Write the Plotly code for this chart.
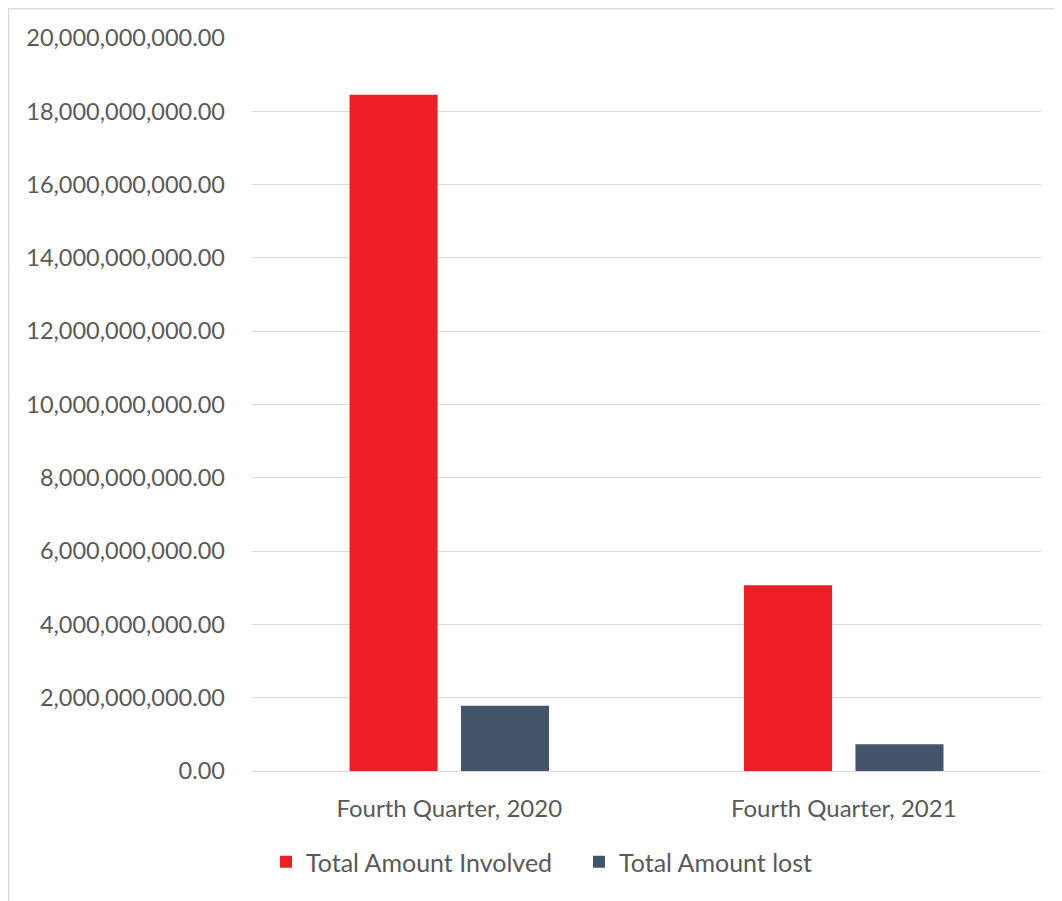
import plotly.graph_objects as go

categories = ["Fourth Quarter, 2020", "Fourth Quarter, 2021"]
total_involved = [18.45e9, 5.07e9]
total_lost = [1.78e9, 0.73e9]
tick_vals = [i * 2e9 for i in range(11)]
tick_text = [f"{v:,.2f}" for v in tick_vals]

RED = "#ED1F24"
NAVY = "#44546A"
GRID = "#D9D9D9"
FAM = "Lato"
COL = "#595959"

fig = go.Figure()
fig.add_trace(go.Bar(name="Total Amount Involved", x=categories, y=total_involved,
                     marker=dict(color=RED, line=dict(width=0))))
fig.add_trace(go.Bar(name="Total Amount lost", x=categories, y=total_lost,
                     marker=dict(color=NAVY, line=dict(width=0))))

OFF = 8  # page body margin
W, H = 1062 - OFF, 901 - OFF
L, T = 252 - OFF, 38 - OFF
R = W - (1041 - OFF)
B = H - (771 - OFF)
pw, ph = W - L - R, H - T - B

def px(x):
    return (x - OFF - L) / pw

def py(y):
    return (H - B - (y - OFF)) / ph

fig.update_layout(
    width=W, height=H,
    margin=dict(l=L, r=R, t=T, b=B, pad=0),
    paper_bgcolor="white", plot_bgcolor="white",
    barmode="group", bargap=0.435, bargroupgap=0.21,
    font=dict(family=FAM, size=23, color=COL),
    showlegend=True,
    legend=dict(orientation="h", x=px(579), xanchor="center", y=py(862), yanchor="middle",
                font=dict(family=FAM, size=25, color=COL), itemwidth=30,
                entrywidth=268, traceorder="normal"),
    xaxis=dict(showgrid=False, showline=True, linecolor=GRID, linewidth=1,
               ticks="", tickfont=dict(family=FAM, size=24, color=COL), ticklabelstandoff=16),
    yaxis=dict(range=[0, 20e9], tickvals=tick_vals, ticktext=tick_text,
               showgrid=True, gridcolor=GRID, gridwidth=1, zeroline=False,
               showline=False, ticks="", tickfont=dict(family=FAM, size=23.5, color=COL),
               ticklabelstandoff=26),
    shapes=[
        dict(type="line", xref="paper", yref="paper", x0=px(OFF), x1=px(1062), y0=py(OFF + 0.5), y1=py(OFF + 0.5),
             line=dict(color=GRID, width=1.5)),
        dict(type="line", xref="paper", yref="paper", x0=px(OFF + 0.5), x1=px(OFF + 0.5), y0=py(OFF), y1=py(901),
             line=dict(color=GRID, width=1.5)),
    ],
)

fig.write_html("out.html")
